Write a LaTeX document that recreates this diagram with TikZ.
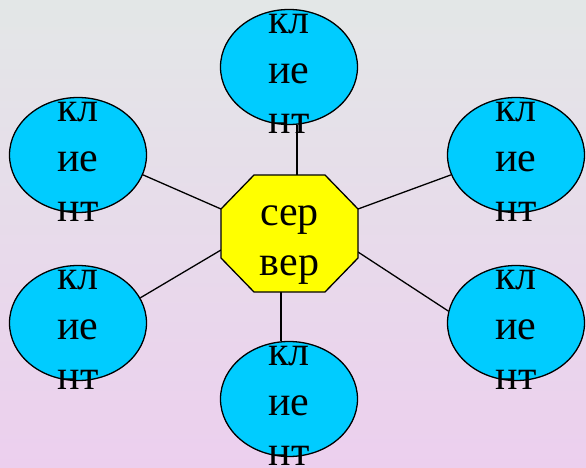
\documentclass[tikz,border=0pt]{standalone}
\usepackage{fontspec}
\setmainfont{Liberation Serif}
\usetikzlibrary{shapes.geometric}
\definecolor{clientcyan}{RGB}{0,204,255}
\definecolor{srvyellow}{RGB}{255,255,0}
\definecolor{bgtop}{RGB}{227,231,231}
\definecolor{bgbot}{RGB}{236,207,238}
\begin{document}
\begin{tikzpicture}[x=1pt,y=-1pt,
  client/.style={ellipse,draw=black,line width=1.3pt,fill=clientcyan,minimum width=137pt,minimum height=115pt,inner sep=0pt},
  ctext/.style={align=center,font=\fontsize{42}{50}\selectfont,inner sep=0pt},
  link/.style={draw=black,line width=1.3pt},
  octa/.style={draw=black,line width=1.3pt,fill=srvyellow,line join=miter}]
\shade[top color=bgtop,bottom color=bgbot] (0,0) rectangle (586,468);
\useasboundingbox (0,0) rectangle (586,468);
% client ellipses
\node[client] (ct)  at (289,67)  {};
\node[client] (clt) at (78,155)  {};
\node[client] (crt) at (516,155) {};
\node[client] (clb) at (78,323)  {};
\node[client] (crb) at (516,323) {};
\node[client] (cb)  at (289,399) {};
% server octagon
\node[minimum width=137pt,minimum height=117pt,inner sep=0pt] (srv) at (289.5,233.5) {};
\coordinate (o1) at (254,175);
\coordinate (o2) at (325,175);
\coordinate (o3) at (358,209);
\coordinate (o4) at (358,258);
\coordinate (o5) at (325,292);
\coordinate (o6) at (254,292);
\coordinate (o7) at (221,258);
\coordinate (o8) at (221,209);
\coordinate (aLB) at (221,250);
\coordinate (aRB) at (358,252);
% connectors
\draw[link] (ct.-82) -- (ct.-82 |- srv.north);
\draw[link] (cb.98) -- (cb.98 |- srv.south);
\draw[link] (clt.-17) -- (o8);
\draw[link] (crt.197) -- (o3);
\draw[link] (clb.22) -- (aLB);
\draw[link] (crb.170) -- (aRB);
\draw[octa] (o1) -- (o2) -- (o3) -- (o4) -- (o5) -- (o6) -- (o7) -- (o8) -- cycle;
% texts
\node[ctext] (tsrv) at (289.5,245) {сер\\вер};
\node[ctext] (tct)  at (289,74)  {кл\\ие\\нт};
\node[ctext] (tclt) at (78,162)  {кл\\ие\\нт};
\node[ctext] (tcrt) at (516,162) {кл\\ие\\нт};
\node[ctext] (tclb) at (78,330)  {кл\\ие\\нт};
\node[ctext] (tcrb) at (516,330) {кл\\ие\\нт};
\node[ctext] (tcb)  at (289,406) {кл\\ие\\нт};
\end{tikzpicture}
\end{document}
